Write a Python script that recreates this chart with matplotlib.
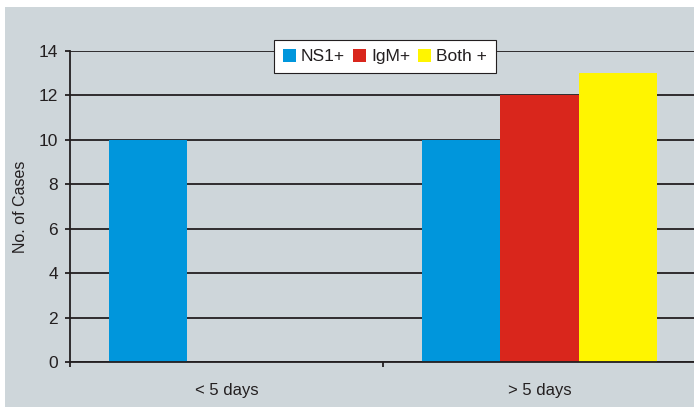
import numpy as np
import matplotlib.pyplot as plt
from matplotlib.patches import Rectangle

plt.rcParams['font.family'] = ['Liberation Sans', 'DejaVu Sans']

# Cases by duration of illness
categories = ['< 5 days', '> 5 days']
series = ['NS1+', 'IgM+', 'Both +']
ns1 = [10, 10]
igm = [0, 12]
both = [0, 13]
colors = ['#0096dc', '#d9261c', '#fff500']

ink = '#231f20'
bg = '#ced6da'

fig = plt.figure(figsize=(6.94, 4.07), dpi=100)
fig.patch.set_facecolor('white')
fig.patches.append(Rectangle((5 / 694, 0), 1, 400 / 407, transform=fig.transFigure,
                             facecolor=bg, edgecolor='none', zorder=-1))

ax = fig.add_axes([70 / 694, 45 / 407, 626 / 694, 311 / 407])
ax.set_facecolor('none')

x = np.arange(len(categories))
w = 0.25
for i, (vals, name) in enumerate(zip([ns1, igm, both], series)):
    ax.bar(x + (i - 1) * w, vals, width=w, color=colors[i], label=name, zorder=3)

ax.set_xlim(-0.5, 1.5)
ax.set_ylim(0, 14)
ax.set_yticks(range(0, 15, 2))
ax.yaxis.grid(True, color=ink, linewidth=1.3, zorder=1)
ax.set_axisbelow(True)

for s in ['top', 'right']:
    ax.spines[s].set_visible(False)
for s in ['left', 'bottom']:
    ax.spines[s].set_color(ink)
    ax.spines[s].set_linewidth(1.3)
    ax.spines[s].set_zorder(4)

ax.set_xticks(x)
ax.set_xticklabels(categories)
ax.set_xticks([-0.5, 0.5], minor=True)
ax.tick_params(axis='x', which='major', length=0, pad=15, labelsize=12, labelcolor=ink)
ax.tick_params(axis='x', which='minor', length=3.5, width=1.3, color=ink, direction='out')
ax.tick_params(axis='y', length=3.5, width=1.3, color=ink, pad=5, labelsize=12.5, labelcolor=ink)

ax.set_ylabel('No. of Cases', fontsize=11.5, color=ink, labelpad=8)

leg = ax.legend(loc='center', bbox_to_anchor=(385 / 694, 1 - 56.5 / 407),
                bbox_transform=fig.transFigure, ncol=3, fontsize=12.5,
                handlelength=0.75, handleheight=0.75, handletextpad=0.3,
                columnspacing=0.45, borderpad=0.5, fancybox=False,
                framealpha=1, edgecolor=ink, borderaxespad=0)
leg.get_frame().set_linewidth(0.8)
for t in leg.get_texts():
    t.set_color(ink)

fig.savefig('out.png', dpi=100)
